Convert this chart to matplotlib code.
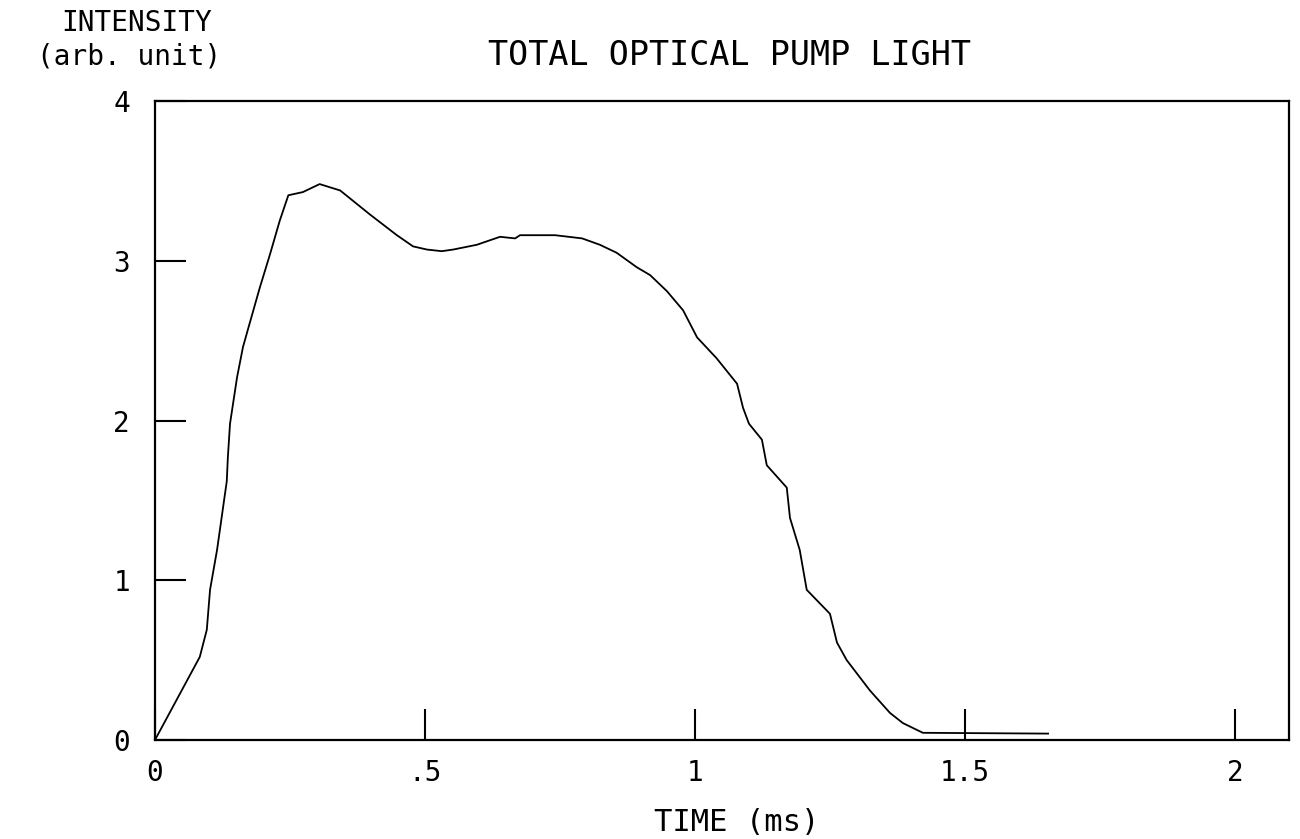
import numpy as np
from matplotlib import pyplot as plt

# pump light trace
time_ms = [0, 0.083, 0.096, 0.102, 0.115, 0.133, 0.135, 0.139, 0.152, 0.163, 0.173,
           0.194, 0.213, 0.231, 0.247, 0.274, 0.305, 0.343, 0.398, 0.448, 0.478,
           0.504, 0.531, 0.552, 0.596, 0.639, 0.667, 0.676, 0.741, 0.791, 0.824,
           0.855, 0.892, 0.917, 0.948, 0.978, 1.004, 1.04, 1.078, 1.089, 1.10,
           1.124, 1.133, 1.170, 1.176, 1.194, 1.207, 1.250, 1.263, 1.281, 1.324,
           1.361, 1.385, 1.422, 1.654]
intensity = [0, 0.52, 0.69, 0.94, 1.19, 1.62, 1.77, 1.98, 2.27, 2.46, 2.58,
             2.83, 3.04, 3.25, 3.41, 3.43, 3.48, 3.44, 3.29, 3.16, 3.09,
             3.07, 3.06, 3.07, 3.10, 3.15, 3.14, 3.16, 3.16, 3.14, 3.10,
             3.05, 2.96, 2.91, 2.81, 2.69, 2.52, 2.39, 2.23, 2.08, 1.98,
             1.88, 1.72, 1.58, 1.39, 1.19, 0.94, 0.79, 0.61, 0.50, 0.31,
             0.17, 0.106, 0.045, 0.04]

xticks = [0, 0.5, 1, 1.5, 2]
xticklabels = ['0', '.5', '1', '1.5', '2']
yticks = [0, 1, 2, 3, 4]
yticklabels = ['0', '1', '2', '3', '4']

plt.rcParams['font.family'] = ['DejaVu Sans Mono']

fig = plt.figure(figsize=(13, 8.39), dpi=100)
ax = fig.add_axes([0.1192, 0.118, 0.8723, 0.7616])

ax.plot(time_ms, intensity, color='black', lw=1.3)

ax.set_xlim(0, 2.1)
ax.set_ylim(0, 4)
ax.set_xticks(xticks)
ax.set_xticklabels(xticklabels)
ax.set_yticks(yticks)
ax.set_yticklabels(yticklabels)
ax.tick_params(direction='in', length=22, width=1.5, labelsize=20, pad=14)
ax.tick_params(axis='y', pad=18)
for s in ax.spines.values():
    s.set_linewidth(1.6)

fig.text(0.561, 0.934, 'TOTAL OPTICAL PUMP LIGHT', ha='center', va='center', fontsize=24)
fig.text(0.105, 0.972, 'INTENSITY', ha='center', va='center', fontsize=20)
fig.text(0.099, 0.933, '(arb. unit)', ha='center', va='center', fontsize=20)
fig.text(0.567, 0.02, 'TIME (ms)', ha='center', va='center', fontsize=22)

fig.savefig('out.png', dpi=100)
